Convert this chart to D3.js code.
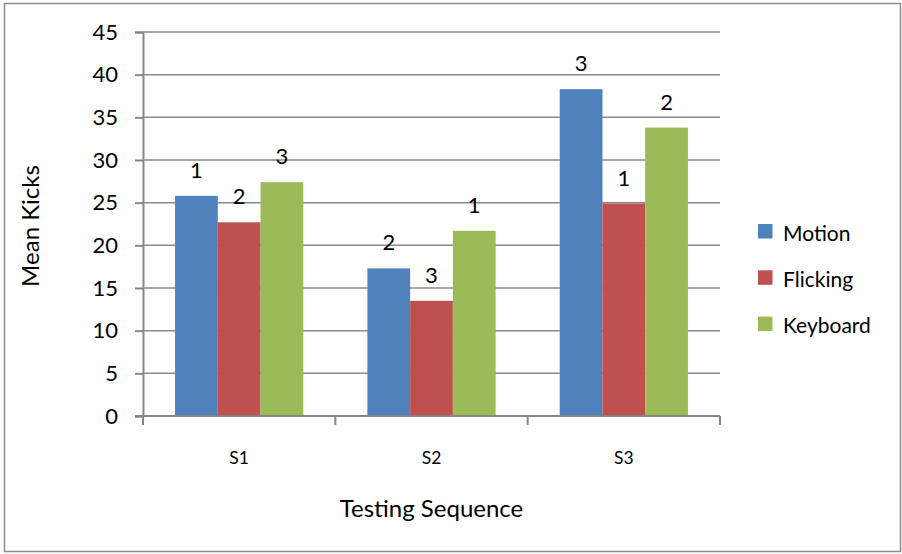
<!DOCTYPE html>
<html>
<head>
<meta charset="utf-8">
<script src="https://cdn.jsdelivr.net/npm/d3@7/dist/d3.min.js"></script>
<style>
  html, body { margin: 0; padding: 0; background: #fff; }
  svg { display: block; }
  text { font-family: Lato, "Open Sans", sans-serif; fill: #000; }
</style>
</head>
<body>
<svg id="chart" width="902" height="554"></svg>
<script>
// Testing sequences on the x axis
const categories = ["S1", "S2", "S3"];
// Input methods (legend order)
const seriesNames = ["Motion", "Flicking", "Keyboard"];
// Mean kicks per method, one value per sequence
const motion   = [25.8, 17.3, 38.3];
const flicking = [22.7, 13.5, 24.9];
const keyboard = [27.4, 21.7, 33.8];
// Rank shown above each bar
const motionRank   = [1, 2, 3];
const flickingRank = [2, 3, 1];
const keyboardRank = [3, 1, 2];
// Y axis ticks
const yTicks = [0, 5, 10, 15, 20, 25, 30, 35, 40, 45];

const colors = ["#4F81BD", "#C0504D", "#9BBB59"];
const seriesValues = [motion, flicking, keyboard];
const seriesRanks = [motionRank, flickingRank, keyboardRank];

const svg = d3.select("#chart");

// Outer chart frame
svg.append("rect")
  .attr("x", 4.5).attr("y", 3.5)
  .attr("width", 896).attr("height", 548)
  .attr("fill", "#fff")
  .attr("stroke", "#8c8c8c").attr("stroke-width", 1.5);

const plot = { left: 143, right: 720, top: 32, bottom: 416 };

const y = d3.scaleLinear().domain([0, 45]).range([plot.bottom, plot.top]);
const x = d3.scaleBand().domain(categories).range([plot.left, plot.right]).paddingInner(0).paddingOuter(0);
const xs = d3.scaleBand().domain(seriesNames).range([0, x.bandwidth()]).paddingInner(0).paddingOuter(0.75);

// Horizontal gridlines
svg.append("g")
  .selectAll("line")
  .data(yTicks.filter(d => d > 0))
  .join("line")
  .attr("x1", plot.left).attr("x2", plot.right)
  .attr("y1", d => y(d)).attr("y2", d => y(d))
  .attr("stroke", "#8a8a8a").attr("stroke-width", 1.5);

// Bars
const rows = [];
seriesNames.forEach((s, si) => {
  categories.forEach((c, ci) => {
    rows.push({ s, si, c, v: seriesValues[si][ci], r: seriesRanks[si][ci] });
  });
});

svg.append("g")
  .selectAll("rect")
  .data(rows)
  .join("rect")
  .attr("x", d => x(d.c) + xs(d.s))
  .attr("y", d => y(d.v))
  .attr("width", xs.bandwidth())
  .attr("height", d => y(0) - y(d.v))
  .attr("fill", d => colors[d.si]);

// Rank labels above bars
svg.append("g")
  .selectAll("text")
  .data(rows)
  .join("text")
  .attr("x", d => x(d.c) + xs(d.s) + xs.bandwidth() / 2)
  .attr("y", d => y(d.v) - 18)
  .attr("text-anchor", "middle")
  .style("font-size", "22px")
  .text(d => d.r);

// Y axis
const yAxis = d3.axisLeft(y).tickValues(yTicks).tickSize(8).tickPadding(17);
const gy = svg.append("g").attr("transform", `translate(${plot.left},0)`).call(yAxis);
gy.select(".domain").attr("stroke", "#868686").attr("stroke-width", 2);
gy.selectAll(".tick line").attr("stroke", "#868686").attr("stroke-width", 2);
gy.selectAll(".tick text").style("font-size", "22px").attr("fill", "#000");

// X axis with boundary tick marks between categories
const gx = svg.append("g").attr("transform", `translate(0,${plot.bottom})`);
gx.append("line")
  .attr("x1", plot.left - 8).attr("x2", plot.right)
  .attr("stroke", "#868686").attr("stroke-width", 2);
const bounds = categories.map(c => x(c)).concat([x(categories[categories.length - 1]) + x.bandwidth()]);
gx.selectAll("line.bound")
  .data(bounds)
  .join("line")
  .attr("class", "bound")
  .attr("x1", d => d).attr("x2", d => d)
  .attr("y1", 0).attr("y2", 9)
  .attr("stroke", "#868686").attr("stroke-width", 2);
gx.selectAll("text")
  .data(categories)
  .join("text")
  .attr("x", d => x(d) + x.bandwidth() / 2)
  .attr("y", 48)
  .attr("text-anchor", "middle")
  .style("font-size", "17.5px")
  .text(d => d);

// Axis titles
svg.append("text")
  .attr("x", (plot.left + plot.right) / 2)
  .attr("y", 517)
  .attr("text-anchor", "middle")
  .style("font-size", "24px")
  .text("Testing Sequence");

svg.append("text")
  .attr("transform", "translate(39,226) rotate(-90)")
  .attr("text-anchor", "middle")
  .style("font-size", "24px")
  .text("Mean Kicks");

// Legend
const legend = svg.append("g").attr("transform", "translate(758,224)");
const li = legend.selectAll("g")
  .data(seriesNames)
  .join("g")
  .attr("transform", (d, i) => `translate(0,${i * 46.3})`);
li.append("rect")
  .attr("width", 14.5).attr("height", 14.5)
  .attr("fill", (d, i) => colors[i]);
li.append("text")
  .attr("x", 25).attr("y", 16.5)
  .style("font-size", "21px")
  .text(d => d);
</script>
</body>
</html>
